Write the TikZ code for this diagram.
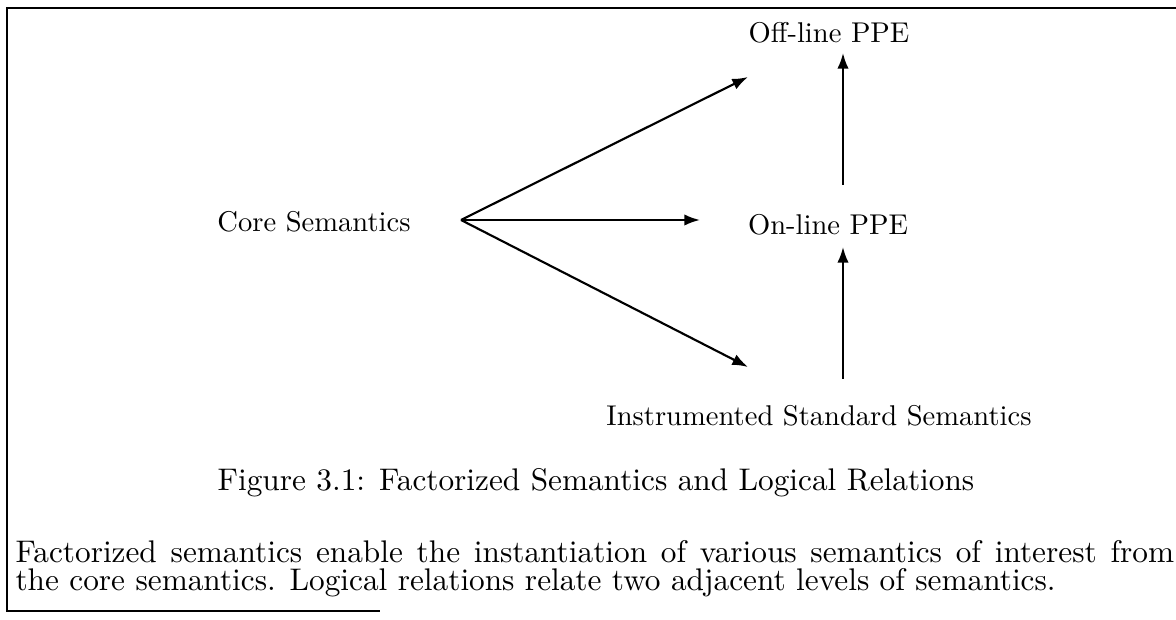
\documentclass[tikz,border=0pt]{standalone}
\usetikzlibrary{arrows.meta}
\begin{document}
\begin{tikzpicture}[x=0.35pt,y=-0.35pt,
  lbl/.style={font=\fontsize{10}{12}\selectfont, inner sep=0pt},
  txt/.style={font=\fontsize{10.95}{13.6}\selectfont, inner sep=0pt},
  arr/.style={-{Latex[length=5.5pt,width=4pt]}, line width=0.75pt},
  frame/.style={line width=0.5pt}]
\useasboundingbox (0,0) rectangle (1176,620);
\draw[frame] (1176,8) -- (7,8) -- (7,611) -- (380,611);

\node[lbl, anchor=base] (core) at (314,232) {Core Semantics};
\node[lbl, anchor=base] (off) at (829,43) {Off-line PPE};
\node[lbl, anchor=base] (on) at (828,235) {On-line PPE};
\node[lbl, anchor=base] (ins) at (819,426) {Instrumented Standard Semantics};
\node[txt, anchor=base] (cap) at (596,491) {Figure 3.1: Factorized Semantics and Logical Relations};
\node[txt, anchor=base west] (p1) at (15,563) {\makebox[405.5pt][s]{Factorized semantics enable the instantiation of various semantics of interest from}};
\node[txt, anchor=base west] (p2) at (15,591) {the core semantics. Logical relations relate two adjacent levels of semantics.};

\coordinate (fan) at (461,220);
\coordinate (toOff) at (748,77);
\coordinate (toOn) at (700,220);
\coordinate (toIns) at (748,367);
\coordinate (onTop) at (843,185);
\coordinate (offBot) at (843,53);
\coordinate (insTop) at (843,379);
\coordinate (onBot) at (843,247);

\draw[arr] (fan) -- (toOff);
\draw[arr] (fan) -- (toOn);
\draw[arr] (fan) -- (toIns);
\draw[arr] (onTop) -- (offBot);
\draw[arr] (insTop) -- (onBot);
\end{tikzpicture}
\end{document}
